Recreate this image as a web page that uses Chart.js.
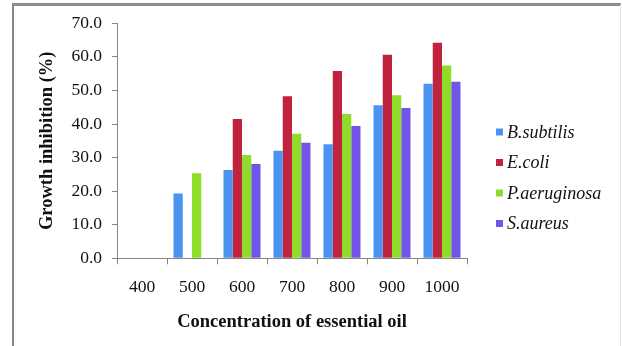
<!DOCTYPE html>
<html>
<head>
<meta charset="utf-8">
<script src="https://cdn.jsdelivr.net/npm/chart.js@4/dist/chart.umd.min.js"></script>
<style>
  html, body { margin: 0; padding: 0; background: #fff; }
  body { width: 622px; height: 346px; position: relative; overflow: hidden; }
  #frame {
    position: absolute; left: 12px; top: 3px; width: 606px; height: 360px;
    border-left: 2px solid #7e8a88; border-top: 3px solid #86918f;
    border-right: 1px solid #e2e4e4;
  }
  #chart { position: absolute; left: 0; top: 0; }
</style>
</head>
<body>
<div id="frame"></div>
<canvas id="chart" width="622" height="346"></canvas>
<script>
// Concentration levels of the essential oil (x categories)
const concentrations = ['400', '500', '600', '700', '800', '900', '1000'];

// Growth inhibition (%) per bacterial strain
const bSubtilis    = [0, 19.3, 26.3, 32.0, 34.0, 45.6, 52.0];
const eColi        = [0, 0,    41.5, 48.3, 55.8, 60.6, 64.2];
const pAeruginosa  = [0, 25.3, 30.8, 37.1, 43.0, 48.6, 57.4];
const sAureus      = [0, 0,    28.1, 34.4, 39.4, 44.8, 52.6];

const strainNames = ['B.subtilis', 'E.coli', 'P.aeruginosa', 'S.aureus'];
const strainColors = ['#4b93f0', '#c1233f', '#8fdc2b', '#7254e8'];

const yTicks = [0, 10, 20, 30, 40, 50, 60, 70];

const SERIF = "'Liberation Serif', 'Times New Roman', serif";
const AXIS_GRAY = '#868686';

// Legend drawn to the right of the plot, one entry per dataset
const sideLegend = {
  id: 'sideLegend',
  afterDraw(chart) {
    const ctx = chart.ctx;
    ctx.save();
    ctx.font = 'italic 18px ' + SERIF;
    ctx.textBaseline = 'middle';
    ctx.textAlign = 'left';
    chart.data.datasets.forEach((ds, i) => {
      const cy = 132 + i * 30.5;
      ctx.fillStyle = ds.backgroundColor;
      ctx.fillRect(496, cy - 3.5, 7, 7);
      ctx.fillStyle = '#111';
      ctx.fillText(ds.label, 507, cy + 1);
    });
    ctx.restore();
  }
};

const seriesValues = [bSubtilis, eColi, pAeruginosa, sAureus];

new Chart(document.getElementById('chart'), {
  type: 'bar',
  data: {
    labels: concentrations,
    datasets: seriesValues.map((vals, i) => ({
      label: strainNames[i],
      data: vals,
      backgroundColor: strainColors[i],
      borderWidth: 0
    }))
  },
  options: {
    responsive: false,
    animation: false,
    devicePixelRatio: 1,
    datasets: { bar: { barPercentage: 1.0, categoryPercentage: 0.74 } },
    layout: { padding: { left: 30, top: 23.3, right: 155, bottom: 10 } },
    plugins: {
      legend: { display: false },
      tooltip: { enabled: false }
    },
    scales: {
      x: {
        afterFit(scale) { scale.height = 77.7; },
        grid: { offset: true, drawOnChartArea: false, drawTicks: true, tickLength: 6, color: AXIS_GRAY },
        border: { color: AXIS_GRAY, width: 1 },
        ticks: { color: '#111', padding: 13, font: { family: SERIF, size: 17.5 } },
        title: {
          display: true,
          text: 'Concentration of essential oil',
          color: '#111',
          font: { family: SERIF, size: 18.5, weight: 'bold' },
          padding: { top: 0, bottom: 3 }
        }
      },
      y: {
        min: 0,
        max: 70,
        afterFit(scale) { scale.width = 87; },
        afterBuildTicks(scale) { scale.ticks = yTicks.map(v => ({ value: v })); },
        grid: { drawOnChartArea: false, drawTicks: true, tickLength: 5, color: AXIS_GRAY },
        border: { color: AXIS_GRAY, width: 1 },
        ticks: {
          color: '#111',
          padding: 10,
          font: { family: SERIF, size: 17.5 },
          callback: v => Number(v).toFixed(1)
        },
        title: {
          display: true,
          text: 'Growth inhibition (%)',
          color: '#111',
          font: { family: SERIF, size: 18.5, weight: 'bold' },
          padding: { top: 6, bottom: 0 }
        }
      }
    }
  },
  plugins: [sideLegend]
});
</script>
</body>
</html>
